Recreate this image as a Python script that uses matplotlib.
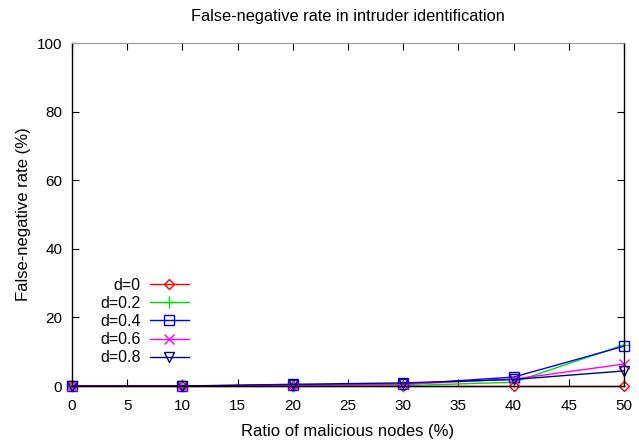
import matplotlib
matplotlib.use("Agg")
import matplotlib.pyplot as plt

plt.rcParams["font.family"] = ["Liberation Sans", "DejaVu Sans"]
plt.rcParams["font.size"] = 11

ratio = [0, 10, 20, 30, 40, 50]
labels = ["d=0", "d=0.2", "d=0.4", "d=0.6", "d=0.8"]
fn_d0 = [0, 0, 0, 0, 0, 0]
fn_d02 = [0, 0, 0, 0.1, 1.1, 12.0]
fn_d04 = [0, 0, 0.3, 0.5, 2.6, 11.6]
fn_d06 = [0, 0, 0.3, 0.5, 2.0, 6.4]
fn_d08 = [0, 0, 0.5, 0.9, 1.9, 4.4]

series = [fn_d0, fn_d02, fn_d04, fn_d06, fn_d08]
colors = ["#ff0000", "#00dd00", "#0000ff", "#ff00ff", "#000080"]
markers = ["D", "+", "s", "x", "v"]
msizes = [5, 8, 7, 7, 7]

fig = plt.figure(figsize=(6.39, 4.44), dpi=100)
ax = fig.add_axes([0.1127, 0.1306, 0.8638, 0.7725])

for ys, lab, c, m, ms in zip(series, labels, colors, markers, msizes):
    ax.plot(ratio, ys, color=c, marker=m, markersize=ms, markerfacecolor="none",
            markeredgecolor=c, linewidth=1, label=lab)

ax.set_xlim(0, 50)
ax.set_ylim(0, 100)
ax.set_xticks(range(0, 51, 5))
ax.set_yticks(range(0, 101, 20))
ax.tick_params(direction="in", top=True, right=True, length=5, width=0.8)
ax.tick_params(axis="x", pad=9)
ax.tick_params(axis="y", pad=7)
ax.spines["top"].set_color("#999999")
for s in ["left", "right", "bottom"]:
    ax.spines[s].set_linewidth(1)
ax.set_xlabel("Ratio of malicious nodes (%)", fontsize=12, labelpad=8)
ax.set_ylabel("False-negative rate (%)", fontsize=12, labelpad=4)
ax.set_title("False-negative rate in intruder identification", fontsize=11.8, pad=16)
for ln in ax.lines:
    ln.set_clip_on(False)

ax.legend(loc="lower left", bbox_to_anchor=(0.025, 0.018), frameon=False,
          markerfirst=False, handlelength=2.4, labelspacing=0.2, handletextpad=0.6,
          fontsize=11.5)

fig.savefig("out.png", dpi=100)
